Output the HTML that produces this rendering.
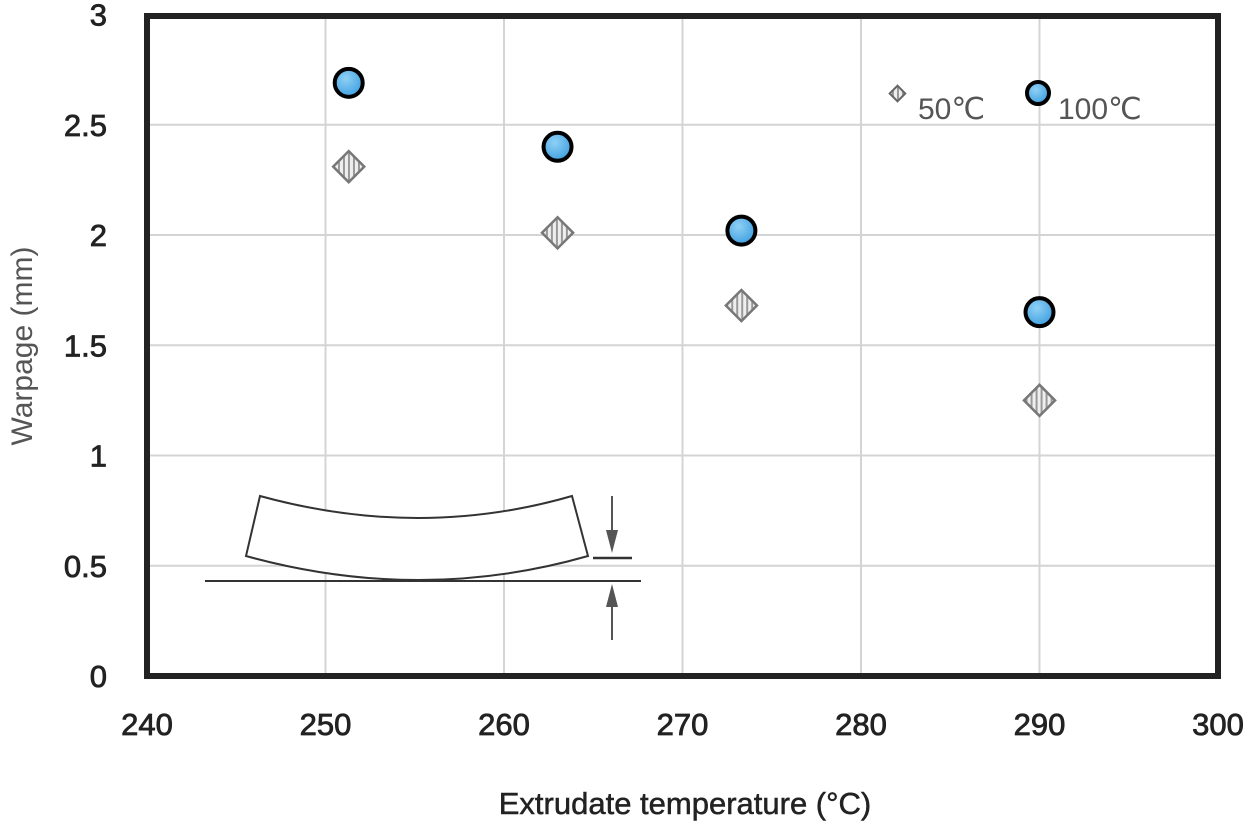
<!DOCTYPE html>
<html><head><meta charset="utf-8"><style>
body{margin:0;background:#fff;}
svg{display:block;font-family:"Liberation Sans",sans-serif;}
</style></head><body>
<svg id="chart" width="1260" height="829">
<defs>
<pattern id="hatch" width="5" height="5" patternUnits="userSpaceOnUse" patternTransform="rotate(45)">
<rect width="5" height="5" fill="#eee"/><rect width="5" height="2" fill="#999"/></pattern>
<radialGradient id="blue" cx="0.4" cy="0.35" r="0.7"><stop offset="0" stop-color="#8fd0f5"/><stop offset="1" stop-color="#3b9ee0"/></radialGradient>
</defs>
<g id="grid"></g>
<g id="inset" fill="none" stroke="#333" stroke-width="2">
<path d="M260,496 Q420,540 572,496 L588,556 Q420,604 246,556 Z" fill="#fff"/>
<line x1="205" y1="581" x2="641" y2="581" stroke-width="2"/>
<line x1="593" y1="558" x2="632" y2="558" stroke-width="2.5"/>
<line x1="612" y1="496" x2="612" y2="540" stroke="#555"/>
<path d="M606,530 L618,530 L612,553 Z" fill="#555" stroke="none"/>
<line x1="612" y1="600" x2="612" y2="640" stroke="#555"/>
<path d="M606,607 L618,607 L612,584 Z" fill="#555" stroke="none"/>
</g>
<rect x="147" y="16" width="1071" height="660" fill="none" stroke="#222" stroke-width="6"/>
<g id="axes"></g>
<g id="marks"></g>
<g>
<rect x="892" y="88" width="11" height="11" transform="rotate(45 897.5 93.5)" fill="url(#hatch)" stroke="#666" stroke-width="2"/>
<text x="918" y="119" font-size="30" fill="#555">50℃</text>
<circle cx="1038" cy="93" r="11" fill="url(#blue)" stroke="#000" stroke-width="4"/>
<text x="1058" y="119" font-size="30" fill="#555">100℃</text>
</g>
<text x="685" y="814" text-anchor="middle" font-size="31" fill="#222" stroke="#222" stroke-width="0.5">Extrudate temperature (°C)</text>
<text transform="translate(32,346) rotate(-90)" text-anchor="middle" font-size="30" fill="#555">Warpage  (mm)</text>
</svg>
<script>
const xTicks=[240,250,260,270,280,290,300];
const yTicks=[0,0.5,1,1.5,2,2.5,3];
const yTickLabels=["0","0.5","1","1.5","2","2.5","3"];
const temps=[251.3,263,273.3,290];
const warp50=[2.31,2.01,1.68,1.25];
const warp100=[2.69,2.40,2.02,1.65];
const X=t=>147+(t-240)*17.85;
const Y=v=>676-v*220.5;
const NS="http://www.w3.org/2000/svg";
function mk(tag,attrs,parent){const e=document.createElementNS(NS,tag);for(const k in attrs)e.setAttribute(k,attrs[k]);document.getElementById(parent).appendChild(e);return e;}
xTicks.forEach(t=>{
 if(t>240&&t<300){const g=mk('line',{x1:X(t),x2:X(t),y1:16,y2:676,stroke:'#d4d4d4','stroke-width':2},'grid');
 
 }
 const l=mk('text',{x:X(t),y:735,'text-anchor':'middle','font-size':31,fill:'#222',stroke:'#222','stroke-width':0.8},'axes');l.textContent=t;
 
 
});
yTicks.forEach((v,i)=>{
 if(v>0&&v<3){const g=mk('line',{x1:147,x2:1218,y1:Y(v),y2:Y(v),stroke:'#d4d4d4','stroke-width':2},'grid');
 
 }
 const l=mk('text',{x:107,y:Y(v)+11,'text-anchor':'end','font-size':31,fill:'#222',stroke:'#222','stroke-width':0.8},'axes');l.textContent=yTickLabels[i];
 
 
});
temps.forEach((t,i)=>{
 const cx=X(t),cy=Y(warp50[i]);
 const d=mk('rect',{x:cx-11,y:cy-11,width:22,height:22,transform:`rotate(45 ${cx} ${cy})`,fill:'url(#hatch)',stroke:'#777','stroke-width':2.5},'marks');
 
 
 const c=mk('circle',{cx:X(t),cy:Y(warp100[i]),r:14,fill:'url(#blue)',stroke:'#000','stroke-width':4},'marks');
 
 
});
</script>
</body></html>
